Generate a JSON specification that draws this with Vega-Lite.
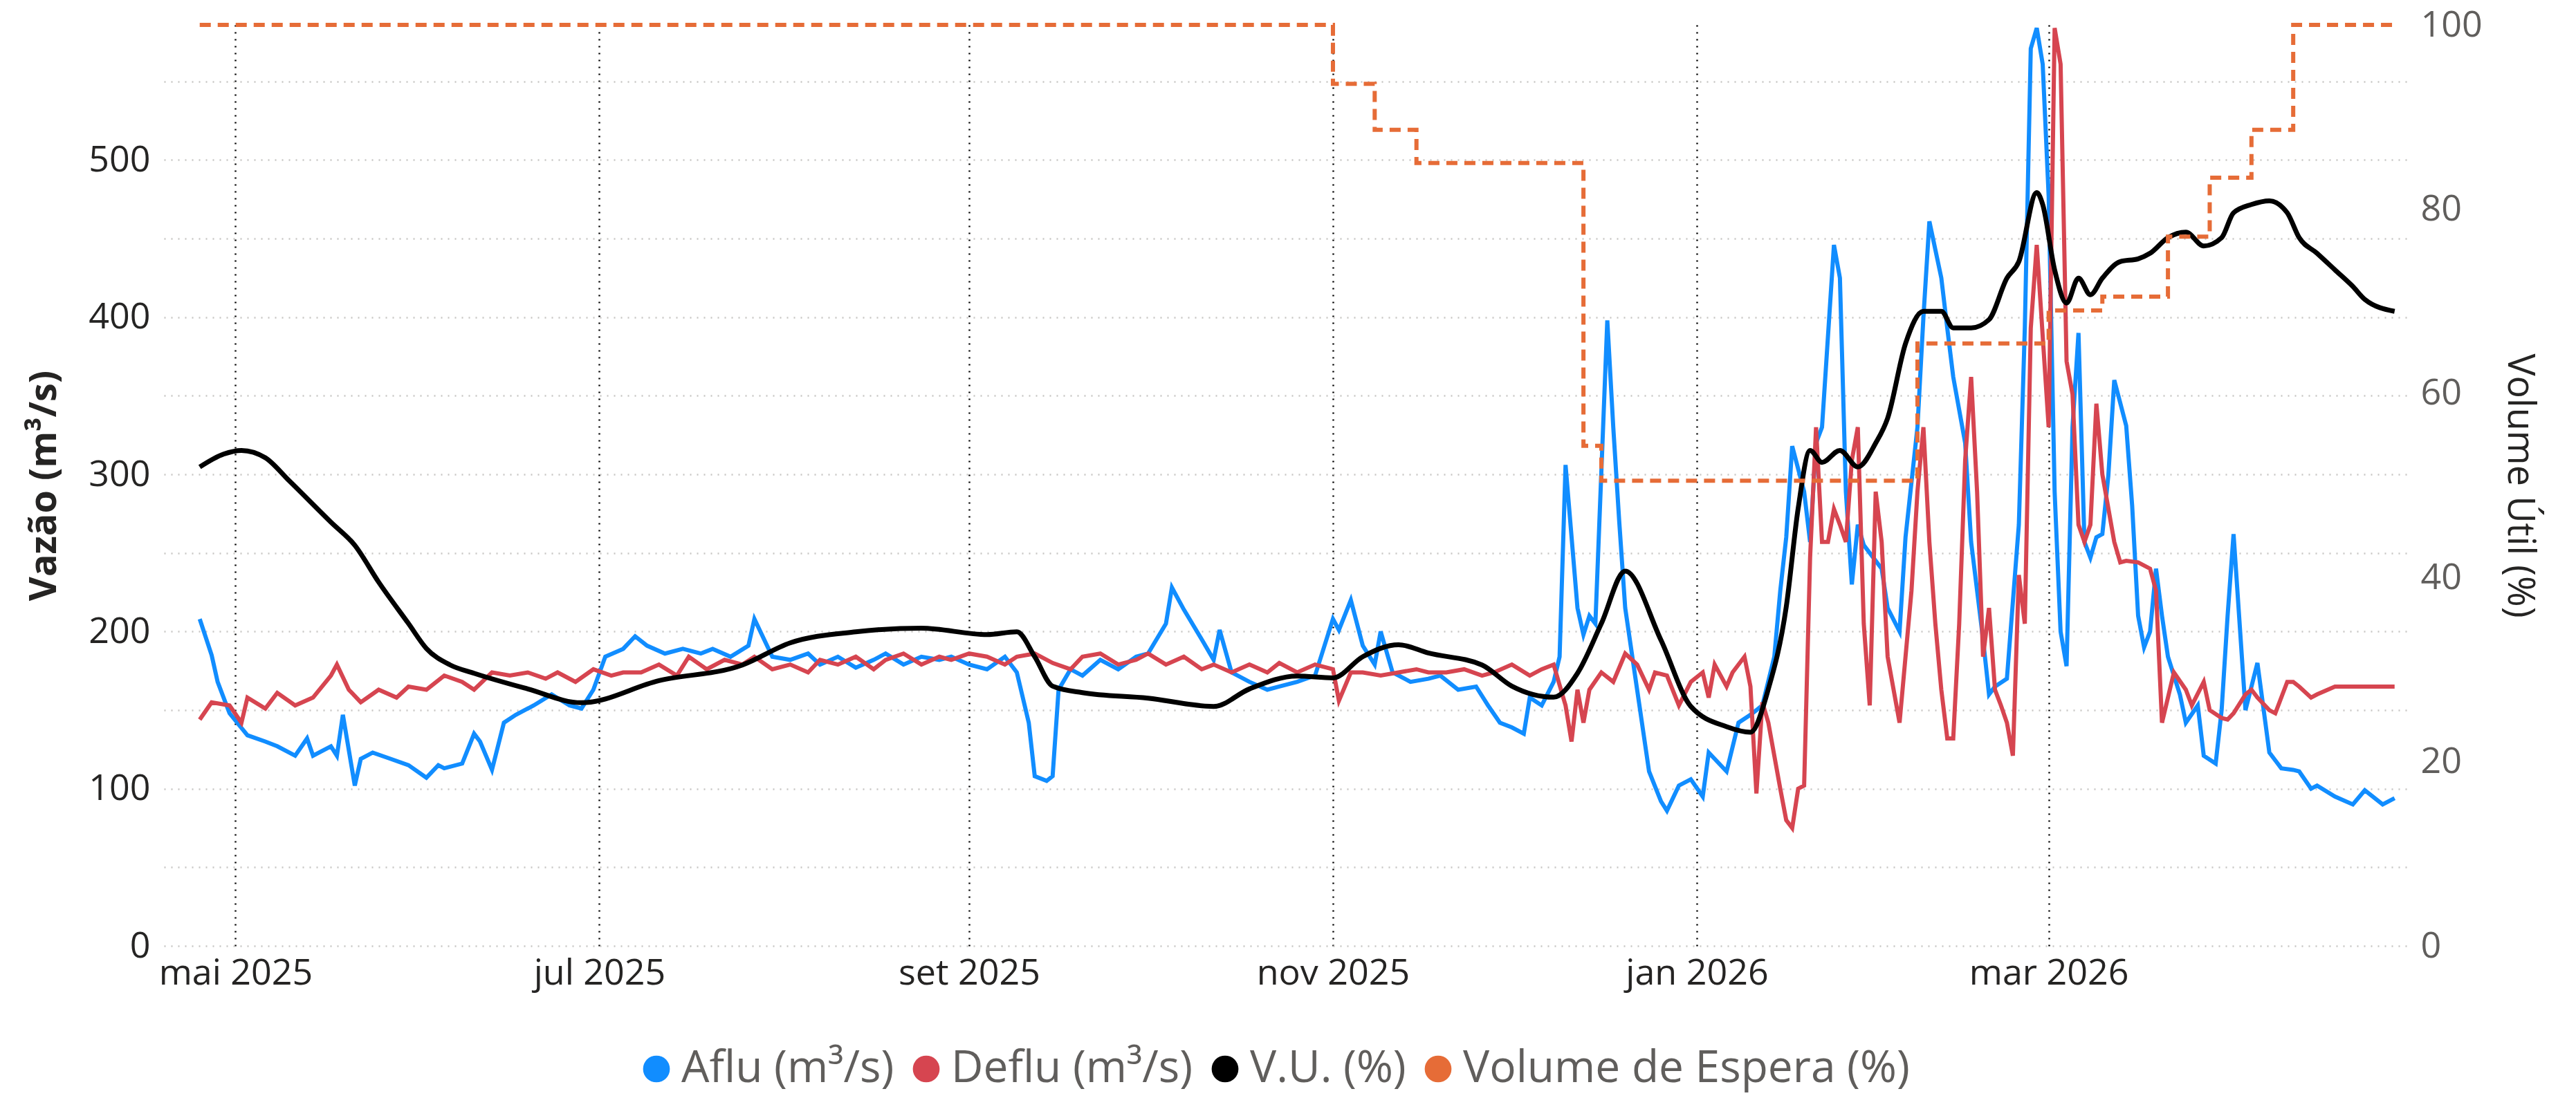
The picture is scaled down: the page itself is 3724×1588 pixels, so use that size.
{
 "$schema": "https://vega.github.io/schema/vega-lite/v6.json",
 "autosize": "none",
 "width": 3242,
 "height": 1332,
 "padding": {"left": 237, "top": 36, "right": 245, "bottom": 220},
 "config": {
  "font": "Open Sans",
  "view": {"stroke": null},
  "axis": {"domain": false, "ticks": false, "labelFontSize": 52, "titleFontSize": 54, "labelColor": "#252423", "labelLimit": 600},
  "legend": {"labelFontSize": 64, "labelColor": "#605E5C", "symbolSize": 1500, "symbolType": "circle", "symbolStrokeWidth": 0, "labelLimit": 900}
 },
 "datasets": {
  "flow": [
   {"d": -6, "s": "Aflu (m³/s)", "v": 208}, {"d": -4, "s": "Aflu (m³/s)", "v": 185}, {"d": -3, "s": "Aflu (m³/s)", "v": 168}, {"d": -1, "s": "Aflu (m³/s)", "v": 148},
   {"d": 2, "s": "Aflu (m³/s)", "v": 134}, {"d": 5, "s": "Aflu (m³/s)", "v": 130}, {"d": 7, "s": "Aflu (m³/s)", "v": 127}, {"d": 10, "s": "Aflu (m³/s)", "v": 121},
   {"d": 12, "s": "Aflu (m³/s)", "v": 132}, {"d": 13, "s": "Aflu (m³/s)", "v": 121}, {"d": 16, "s": "Aflu (m³/s)", "v": 127}, {"d": 17, "s": "Aflu (m³/s)", "v": 121},
   {"d": 18, "s": "Aflu (m³/s)", "v": 147}, {"d": 20, "s": "Aflu (m³/s)", "v": 102}, {"d": 21, "s": "Aflu (m³/s)", "v": 119}, {"d": 23, "s": "Aflu (m³/s)", "v": 123},
   {"d": 26, "s": "Aflu (m³/s)", "v": 119}, {"d": 29, "s": "Aflu (m³/s)", "v": 115}, {"d": 32, "s": "Aflu (m³/s)", "v": 107}, {"d": 34, "s": "Aflu (m³/s)", "v": 115},
   {"d": 35, "s": "Aflu (m³/s)", "v": 113}, {"d": 38, "s": "Aflu (m³/s)", "v": 116}, {"d": 40, "s": "Aflu (m³/s)", "v": 135}, {"d": 41, "s": "Aflu (m³/s)", "v": 130},
   {"d": 43, "s": "Aflu (m³/s)", "v": 112}, {"d": 45, "s": "Aflu (m³/s)", "v": 142}, {"d": 47, "s": "Aflu (m³/s)", "v": 147}, {"d": 50, "s": "Aflu (m³/s)", "v": 153},
   {"d": 53, "s": "Aflu (m³/s)", "v": 160}, {"d": 56, "s": "Aflu (m³/s)", "v": 153}, {"d": 58, "s": "Aflu (m³/s)", "v": 151}, {"d": 60, "s": "Aflu (m³/s)", "v": 163},
   {"d": 62, "s": "Aflu (m³/s)", "v": 184}, {"d": 65, "s": "Aflu (m³/s)", "v": 189}, {"d": 67, "s": "Aflu (m³/s)", "v": 197}, {"d": 69, "s": "Aflu (m³/s)", "v": 191},
   {"d": 72, "s": "Aflu (m³/s)", "v": 186}, {"d": 75, "s": "Aflu (m³/s)", "v": 189}, {"d": 78, "s": "Aflu (m³/s)", "v": 186}, {"d": 80, "s": "Aflu (m³/s)", "v": 189},
   {"d": 83, "s": "Aflu (m³/s)", "v": 184}, {"d": 86, "s": "Aflu (m³/s)", "v": 191}, {"d": 87, "s": "Aflu (m³/s)", "v": 208}, {"d": 90, "s": "Aflu (m³/s)", "v": 184},
   {"d": 93, "s": "Aflu (m³/s)", "v": 182}, {"d": 96, "s": "Aflu (m³/s)", "v": 186}, {"d": 98, "s": "Aflu (m³/s)", "v": 179}, {"d": 101, "s": "Aflu (m³/s)", "v": 184},
   {"d": 104, "s": "Aflu (m³/s)", "v": 177}, {"d": 107, "s": "Aflu (m³/s)", "v": 182}, {"d": 109, "s": "Aflu (m³/s)", "v": 186}, {"d": 112, "s": "Aflu (m³/s)", "v": 179},
   {"d": 115, "s": "Aflu (m³/s)", "v": 184}, {"d": 118, "s": "Aflu (m³/s)", "v": 182}, {"d": 120, "s": "Aflu (m³/s)", "v": 184}, {"d": 123, "s": "Aflu (m³/s)", "v": 179},
   {"d": 126, "s": "Aflu (m³/s)", "v": 176}, {"d": 129, "s": "Aflu (m³/s)", "v": 184}, {"d": 131, "s": "Aflu (m³/s)", "v": 174}, {"d": 133, "s": "Aflu (m³/s)", "v": 142},
   {"d": 134, "s": "Aflu (m³/s)", "v": 108}, {"d": 136, "s": "Aflu (m³/s)", "v": 105}, {"d": 137, "s": "Aflu (m³/s)", "v": 108}, {"d": 138, "s": "Aflu (m³/s)", "v": 163},
   {"d": 140, "s": "Aflu (m³/s)", "v": 176}, {"d": 142, "s": "Aflu (m³/s)", "v": 172}, {"d": 145, "s": "Aflu (m³/s)", "v": 182}, {"d": 148, "s": "Aflu (m³/s)", "v": 176},
   {"d": 151, "s": "Aflu (m³/s)", "v": 184}, {"d": 153, "s": "Aflu (m³/s)", "v": 186}, {"d": 156, "s": "Aflu (m³/s)", "v": 205}, {"d": 157, "s": "Aflu (m³/s)", "v": 228},
   {"d": 159, "s": "Aflu (m³/s)", "v": 214}, {"d": 162, "s": "Aflu (m³/s)", "v": 195}, {"d": 164, "s": "Aflu (m³/s)", "v": 182}, {"d": 165, "s": "Aflu (m³/s)", "v": 201},
   {"d": 167, "s": "Aflu (m³/s)", "v": 174}, {"d": 170, "s": "Aflu (m³/s)", "v": 168}, {"d": 173, "s": "Aflu (m³/s)", "v": 163}, {"d": 175, "s": "Aflu (m³/s)", "v": 165},
   {"d": 178, "s": "Aflu (m³/s)", "v": 168}, {"d": 181, "s": "Aflu (m³/s)", "v": 172}, {"d": 184, "s": "Aflu (m³/s)", "v": 208}, {"d": 185, "s": "Aflu (m³/s)", "v": 201},
   {"d": 187, "s": "Aflu (m³/s)", "v": 220}, {"d": 189, "s": "Aflu (m³/s)", "v": 191}, {"d": 191, "s": "Aflu (m³/s)", "v": 179}, {"d": 192, "s": "Aflu (m³/s)", "v": 200},
   {"d": 194, "s": "Aflu (m³/s)", "v": 174}, {"d": 197, "s": "Aflu (m³/s)", "v": 168}, {"d": 200, "s": "Aflu (m³/s)", "v": 170}, {"d": 202, "s": "Aflu (m³/s)", "v": 172},
   {"d": 205, "s": "Aflu (m³/s)", "v": 163}, {"d": 208, "s": "Aflu (m³/s)", "v": 165}, {"d": 210, "s": "Aflu (m³/s)", "v": 153}, {"d": 212, "s": "Aflu (m³/s)", "v": 142},
   {"d": 214, "s": "Aflu (m³/s)", "v": 139}, {"d": 216, "s": "Aflu (m³/s)", "v": 135}, {"d": 217, "s": "Aflu (m³/s)", "v": 158}, {"d": 219, "s": "Aflu (m³/s)", "v": 153},
   {"d": 221, "s": "Aflu (m³/s)", "v": 168}, {"d": 222, "s": "Aflu (m³/s)", "v": 184}, {"d": 223, "s": "Aflu (m³/s)", "v": 306}, {"d": 225, "s": "Aflu (m³/s)", "v": 215},
   {"d": 226, "s": "Aflu (m³/s)", "v": 198}, {"d": 227, "s": "Aflu (m³/s)", "v": 210}, {"d": 228, "s": "Aflu (m³/s)", "v": 205}, {"d": 230, "s": "Aflu (m³/s)", "v": 398},
   {"d": 231, "s": "Aflu (m³/s)", "v": 330}, {"d": 232, "s": "Aflu (m³/s)", "v": 270}, {"d": 233, "s": "Aflu (m³/s)", "v": 215}, {"d": 235, "s": "Aflu (m³/s)", "v": 163},
   {"d": 236, "s": "Aflu (m³/s)", "v": 137}, {"d": 237, "s": "Aflu (m³/s)", "v": 111}, {"d": 239, "s": "Aflu (m³/s)", "v": 92}, {"d": 240, "s": "Aflu (m³/s)", "v": 86},
   {"d": 242, "s": "Aflu (m³/s)", "v": 102}, {"d": 244, "s": "Aflu (m³/s)", "v": 106}, {"d": 246, "s": "Aflu (m³/s)", "v": 95}, {"d": 247, "s": "Aflu (m³/s)", "v": 123},
   {"d": 248, "s": "Aflu (m³/s)", "v": 119}, {"d": 250, "s": "Aflu (m³/s)", "v": 111}, {"d": 252, "s": "Aflu (m³/s)", "v": 142}, {"d": 254, "s": "Aflu (m³/s)", "v": 147},
   {"d": 256, "s": "Aflu (m³/s)", "v": 153}, {"d": 258, "s": "Aflu (m³/s)", "v": 184}, {"d": 259, "s": "Aflu (m³/s)", "v": 226}, {"d": 260, "s": "Aflu (m³/s)", "v": 260},
   {"d": 261, "s": "Aflu (m³/s)", "v": 318}, {"d": 263, "s": "Aflu (m³/s)", "v": 289}, {"d": 264, "s": "Aflu (m³/s)", "v": 257}, {"d": 265, "s": "Aflu (m³/s)", "v": 320},
   {"d": 266, "s": "Aflu (m³/s)", "v": 330}, {"d": 268, "s": "Aflu (m³/s)", "v": 446}, {"d": 269, "s": "Aflu (m³/s)", "v": 425}, {"d": 270, "s": "Aflu (m³/s)", "v": 289},
   {"d": 271, "s": "Aflu (m³/s)", "v": 230}, {"d": 272, "s": "Aflu (m³/s)", "v": 268}, {"d": 273, "s": "Aflu (m³/s)", "v": 255}, {"d": 275, "s": "Aflu (m³/s)", "v": 245},
   {"d": 276, "s": "Aflu (m³/s)", "v": 240}, {"d": 277, "s": "Aflu (m³/s)", "v": 215}, {"d": 279, "s": "Aflu (m³/s)", "v": 200}, {"d": 280, "s": "Aflu (m³/s)", "v": 260},
   {"d": 282, "s": "Aflu (m³/s)", "v": 330}, {"d": 283, "s": "Aflu (m³/s)", "v": 400}, {"d": 284, "s": "Aflu (m³/s)", "v": 461}, {"d": 286, "s": "Aflu (m³/s)", "v": 425},
   {"d": 287, "s": "Aflu (m³/s)", "v": 393}, {"d": 288, "s": "Aflu (m³/s)", "v": 362}, {"d": 290, "s": "Aflu (m³/s)", "v": 320}, {"d": 291, "s": "Aflu (m³/s)", "v": 257},
   {"d": 293, "s": "Aflu (m³/s)", "v": 195}, {"d": 294, "s": "Aflu (m³/s)", "v": 160}, {"d": 295, "s": "Aflu (m³/s)", "v": 165}, {"d": 297, "s": "Aflu (m³/s)", "v": 170},
   {"d": 299, "s": "Aflu (m³/s)", "v": 268}, {"d": 300, "s": "Aflu (m³/s)", "v": 393}, {"d": 301, "s": "Aflu (m³/s)", "v": 571}, {"d": 302, "s": "Aflu (m³/s)", "v": 584},
   {"d": 303, "s": "Aflu (m³/s)", "v": 561}, {"d": 304, "s": "Aflu (m³/s)", "v": 477}, {"d": 305, "s": "Aflu (m³/s)", "v": 289}, {"d": 306, "s": "Aflu (m³/s)", "v": 200},
   {"d": 307, "s": "Aflu (m³/s)", "v": 178}, {"d": 308, "s": "Aflu (m³/s)", "v": 330}, {"d": 309, "s": "Aflu (m³/s)", "v": 390}, {"d": 310, "s": "Aflu (m³/s)", "v": 257},
   {"d": 311, "s": "Aflu (m³/s)", "v": 247}, {"d": 312, "s": "Aflu (m³/s)", "v": 260}, {"d": 313, "s": "Aflu (m³/s)", "v": 262}, {"d": 314, "s": "Aflu (m³/s)", "v": 299},
   {"d": 315, "s": "Aflu (m³/s)", "v": 360}, {"d": 317, "s": "Aflu (m³/s)", "v": 331}, {"d": 318, "s": "Aflu (m³/s)", "v": 280}, {"d": 319, "s": "Aflu (m³/s)", "v": 210},
   {"d": 320, "s": "Aflu (m³/s)", "v": 190}, {"d": 321, "s": "Aflu (m³/s)", "v": 200}, {"d": 322, "s": "Aflu (m³/s)", "v": 240}, {"d": 323, "s": "Aflu (m³/s)", "v": 210},
   {"d": 324, "s": "Aflu (m³/s)", "v": 184}, {"d": 326, "s": "Aflu (m³/s)", "v": 160}, {"d": 327, "s": "Aflu (m³/s)", "v": 142}, {"d": 329, "s": "Aflu (m³/s)", "v": 153},
   {"d": 330, "s": "Aflu (m³/s)", "v": 121}, {"d": 332, "s": "Aflu (m³/s)", "v": 116}, {"d": 333, "s": "Aflu (m³/s)", "v": 150}, {"d": 334, "s": "Aflu (m³/s)", "v": 210},
   {"d": 335, "s": "Aflu (m³/s)", "v": 262}, {"d": 337, "s": "Aflu (m³/s)", "v": 150}, {"d": 338, "s": "Aflu (m³/s)", "v": 165}, {"d": 339, "s": "Aflu (m³/s)", "v": 180},
   {"d": 341, "s": "Aflu (m³/s)", "v": 123}, {"d": 342, "s": "Aflu (m³/s)", "v": 118}, {"d": 343, "s": "Aflu (m³/s)", "v": 113}, {"d": 345, "s": "Aflu (m³/s)", "v": 112},
   {"d": 346, "s": "Aflu (m³/s)", "v": 111}, {"d": 348, "s": "Aflu (m³/s)", "v": 100}, {"d": 349, "s": "Aflu (m³/s)", "v": 102}, {"d": 352, "s": "Aflu (m³/s)", "v": 95},
   {"d": 355, "s": "Aflu (m³/s)", "v": 90}, {"d": 357, "s": "Aflu (m³/s)", "v": 99}, {"d": 360, "s": "Aflu (m³/s)", "v": 90}, {"d": 362, "s": "Aflu (m³/s)", "v": 94},

   {"d": -6, "s": "Deflu (m³/s)", "v": 144}, {"d": -4, "s": "Deflu (m³/s)", "v": 155}, {"d": -1, "s": "Deflu (m³/s)", "v": 153}, {"d": 1, "s": "Deflu (m³/s)", "v": 142},
   {"d": 2, "s": "Deflu (m³/s)", "v": 158}, {"d": 5, "s": "Deflu (m³/s)", "v": 151}, {"d": 7, "s": "Deflu (m³/s)", "v": 161}, {"d": 10, "s": "Deflu (m³/s)", "v": 153},
   {"d": 13, "s": "Deflu (m³/s)", "v": 158}, {"d": 16, "s": "Deflu (m³/s)", "v": 172}, {"d": 17, "s": "Deflu (m³/s)", "v": 179}, {"d": 19, "s": "Deflu (m³/s)", "v": 163},
   {"d": 21, "s": "Deflu (m³/s)", "v": 155}, {"d": 24, "s": "Deflu (m³/s)", "v": 163}, {"d": 27, "s": "Deflu (m³/s)", "v": 158}, {"d": 29, "s": "Deflu (m³/s)", "v": 165},
   {"d": 32, "s": "Deflu (m³/s)", "v": 163}, {"d": 35, "s": "Deflu (m³/s)", "v": 172}, {"d": 38, "s": "Deflu (m³/s)", "v": 168}, {"d": 40, "s": "Deflu (m³/s)", "v": 163},
   {"d": 43, "s": "Deflu (m³/s)", "v": 174}, {"d": 46, "s": "Deflu (m³/s)", "v": 172}, {"d": 49, "s": "Deflu (m³/s)", "v": 174}, {"d": 52, "s": "Deflu (m³/s)", "v": 170},
   {"d": 54, "s": "Deflu (m³/s)", "v": 174}, {"d": 57, "s": "Deflu (m³/s)", "v": 168}, {"d": 60, "s": "Deflu (m³/s)", "v": 176}, {"d": 63, "s": "Deflu (m³/s)", "v": 172},
   {"d": 65, "s": "Deflu (m³/s)", "v": 174}, {"d": 68, "s": "Deflu (m³/s)", "v": 174}, {"d": 71, "s": "Deflu (m³/s)", "v": 179}, {"d": 74, "s": "Deflu (m³/s)", "v": 172},
   {"d": 76, "s": "Deflu (m³/s)", "v": 184}, {"d": 79, "s": "Deflu (m³/s)", "v": 176}, {"d": 82, "s": "Deflu (m³/s)", "v": 182}, {"d": 85, "s": "Deflu (m³/s)", "v": 179},
   {"d": 87, "s": "Deflu (m³/s)", "v": 184}, {"d": 90, "s": "Deflu (m³/s)", "v": 176}, {"d": 93, "s": "Deflu (m³/s)", "v": 179}, {"d": 96, "s": "Deflu (m³/s)", "v": 174},
   {"d": 98, "s": "Deflu (m³/s)", "v": 182}, {"d": 101, "s": "Deflu (m³/s)", "v": 179}, {"d": 104, "s": "Deflu (m³/s)", "v": 184}, {"d": 107, "s": "Deflu (m³/s)", "v": 176},
   {"d": 109, "s": "Deflu (m³/s)", "v": 182}, {"d": 112, "s": "Deflu (m³/s)", "v": 186}, {"d": 115, "s": "Deflu (m³/s)", "v": 179}, {"d": 118, "s": "Deflu (m³/s)", "v": 184},
   {"d": 120, "s": "Deflu (m³/s)", "v": 182}, {"d": 123, "s": "Deflu (m³/s)", "v": 186}, {"d": 126, "s": "Deflu (m³/s)", "v": 184}, {"d": 129, "s": "Deflu (m³/s)", "v": 179},
   {"d": 131, "s": "Deflu (m³/s)", "v": 184}, {"d": 134, "s": "Deflu (m³/s)", "v": 186}, {"d": 137, "s": "Deflu (m³/s)", "v": 180}, {"d": 140, "s": "Deflu (m³/s)", "v": 176},
   {"d": 142, "s": "Deflu (m³/s)", "v": 184}, {"d": 145, "s": "Deflu (m³/s)", "v": 186}, {"d": 148, "s": "Deflu (m³/s)", "v": 179}, {"d": 151, "s": "Deflu (m³/s)", "v": 182},
   {"d": 153, "s": "Deflu (m³/s)", "v": 186}, {"d": 156, "s": "Deflu (m³/s)", "v": 179}, {"d": 159, "s": "Deflu (m³/s)", "v": 184}, {"d": 162, "s": "Deflu (m³/s)", "v": 176},
   {"d": 164, "s": "Deflu (m³/s)", "v": 179}, {"d": 167, "s": "Deflu (m³/s)", "v": 174}, {"d": 170, "s": "Deflu (m³/s)", "v": 179}, {"d": 173, "s": "Deflu (m³/s)", "v": 174},
   {"d": 175, "s": "Deflu (m³/s)", "v": 180}, {"d": 178, "s": "Deflu (m³/s)", "v": 174}, {"d": 181, "s": "Deflu (m³/s)", "v": 179}, {"d": 184, "s": "Deflu (m³/s)", "v": 176},
   {"d": 185, "s": "Deflu (m³/s)", "v": 156}, {"d": 187, "s": "Deflu (m³/s)", "v": 174}, {"d": 189, "s": "Deflu (m³/s)", "v": 174}, {"d": 192, "s": "Deflu (m³/s)", "v": 172},
   {"d": 195, "s": "Deflu (m³/s)", "v": 174}, {"d": 198, "s": "Deflu (m³/s)", "v": 176}, {"d": 200, "s": "Deflu (m³/s)", "v": 174}, {"d": 203, "s": "Deflu (m³/s)", "v": 174},
   {"d": 206, "s": "Deflu (m³/s)", "v": 176}, {"d": 209, "s": "Deflu (m³/s)", "v": 172}, {"d": 211, "s": "Deflu (m³/s)", "v": 174}, {"d": 214, "s": "Deflu (m³/s)", "v": 179},
   {"d": 217, "s": "Deflu (m³/s)", "v": 172}, {"d": 219, "s": "Deflu (m³/s)", "v": 176}, {"d": 221, "s": "Deflu (m³/s)", "v": 179}, {"d": 223, "s": "Deflu (m³/s)", "v": 153},
   {"d": 224, "s": "Deflu (m³/s)", "v": 130}, {"d": 225, "s": "Deflu (m³/s)", "v": 163}, {"d": 226, "s": "Deflu (m³/s)", "v": 142}, {"d": 227, "s": "Deflu (m³/s)", "v": 163},
   {"d": 229, "s": "Deflu (m³/s)", "v": 174}, {"d": 231, "s": "Deflu (m³/s)", "v": 168}, {"d": 233, "s": "Deflu (m³/s)", "v": 186}, {"d": 235, "s": "Deflu (m³/s)", "v": 179},
   {"d": 237, "s": "Deflu (m³/s)", "v": 163}, {"d": 238, "s": "Deflu (m³/s)", "v": 174}, {"d": 240, "s": "Deflu (m³/s)", "v": 172}, {"d": 242, "s": "Deflu (m³/s)", "v": 153},
   {"d": 244, "s": "Deflu (m³/s)", "v": 168}, {"d": 246, "s": "Deflu (m³/s)", "v": 174}, {"d": 247, "s": "Deflu (m³/s)", "v": 158}, {"d": 248, "s": "Deflu (m³/s)", "v": 179},
   {"d": 250, "s": "Deflu (m³/s)", "v": 165}, {"d": 251, "s": "Deflu (m³/s)", "v": 174}, {"d": 253, "s": "Deflu (m³/s)", "v": 184}, {"d": 254, "s": "Deflu (m³/s)", "v": 165},
   {"d": 255, "s": "Deflu (m³/s)", "v": 97}, {"d": 256, "s": "Deflu (m³/s)", "v": 155}, {"d": 257, "s": "Deflu (m³/s)", "v": 142}, {"d": 259, "s": "Deflu (m³/s)", "v": 100},
   {"d": 260, "s": "Deflu (m³/s)", "v": 80}, {"d": 261, "s": "Deflu (m³/s)", "v": 75}, {"d": 262, "s": "Deflu (m³/s)", "v": 100}, {"d": 263, "s": "Deflu (m³/s)", "v": 102},
   {"d": 264, "s": "Deflu (m³/s)", "v": 247}, {"d": 265, "s": "Deflu (m³/s)", "v": 330}, {"d": 266, "s": "Deflu (m³/s)", "v": 257}, {"d": 267, "s": "Deflu (m³/s)", "v": 257},
   {"d": 268, "s": "Deflu (m³/s)", "v": 278}, {"d": 269, "s": "Deflu (m³/s)", "v": 268}, {"d": 270, "s": "Deflu (m³/s)", "v": 257}, {"d": 271, "s": "Deflu (m³/s)", "v": 309},
   {"d": 272, "s": "Deflu (m³/s)", "v": 330}, {"d": 273, "s": "Deflu (m³/s)", "v": 205}, {"d": 274, "s": "Deflu (m³/s)", "v": 153}, {"d": 275, "s": "Deflu (m³/s)", "v": 289},
   {"d": 276, "s": "Deflu (m³/s)", "v": 257}, {"d": 277, "s": "Deflu (m³/s)", "v": 184}, {"d": 278, "s": "Deflu (m³/s)", "v": 163}, {"d": 279, "s": "Deflu (m³/s)", "v": 142},
   {"d": 281, "s": "Deflu (m³/s)", "v": 226}, {"d": 282, "s": "Deflu (m³/s)", "v": 289}, {"d": 283, "s": "Deflu (m³/s)", "v": 330}, {"d": 284, "s": "Deflu (m³/s)", "v": 257},
   {"d": 285, "s": "Deflu (m³/s)", "v": 205}, {"d": 286, "s": "Deflu (m³/s)", "v": 163}, {"d": 287, "s": "Deflu (m³/s)", "v": 132}, {"d": 288, "s": "Deflu (m³/s)", "v": 132},
   {"d": 289, "s": "Deflu (m³/s)", "v": 205}, {"d": 290, "s": "Deflu (m³/s)", "v": 309}, {"d": 291, "s": "Deflu (m³/s)", "v": 362}, {"d": 292, "s": "Deflu (m³/s)", "v": 289},
   {"d": 293, "s": "Deflu (m³/s)", "v": 184}, {"d": 294, "s": "Deflu (m³/s)", "v": 215}, {"d": 295, "s": "Deflu (m³/s)", "v": 163}, {"d": 296, "s": "Deflu (m³/s)", "v": 153},
   {"d": 297, "s": "Deflu (m³/s)", "v": 142}, {"d": 298, "s": "Deflu (m³/s)", "v": 121}, {"d": 299, "s": "Deflu (m³/s)", "v": 236}, {"d": 300, "s": "Deflu (m³/s)", "v": 205},
   {"d": 301, "s": "Deflu (m³/s)", "v": 393}, {"d": 302, "s": "Deflu (m³/s)", "v": 446}, {"d": 304, "s": "Deflu (m³/s)", "v": 330}, {"d": 305, "s": "Deflu (m³/s)", "v": 584},
   {"d": 306, "s": "Deflu (m³/s)", "v": 561}, {"d": 307, "s": "Deflu (m³/s)", "v": 372}, {"d": 308, "s": "Deflu (m³/s)", "v": 351}, {"d": 309, "s": "Deflu (m³/s)", "v": 268},
   {"d": 310, "s": "Deflu (m³/s)", "v": 257}, {"d": 311, "s": "Deflu (m³/s)", "v": 268}, {"d": 312, "s": "Deflu (m³/s)", "v": 345}, {"d": 313, "s": "Deflu (m³/s)", "v": 300},
   {"d": 315, "s": "Deflu (m³/s)", "v": 257}, {"d": 316, "s": "Deflu (m³/s)", "v": 244}, {"d": 317, "s": "Deflu (m³/s)", "v": 245}, {"d": 319, "s": "Deflu (m³/s)", "v": 244},
   {"d": 321, "s": "Deflu (m³/s)", "v": 240}, {"d": 322, "s": "Deflu (m³/s)", "v": 226}, {"d": 323, "s": "Deflu (m³/s)", "v": 142}, {"d": 325, "s": "Deflu (m³/s)", "v": 174},
   {"d": 327, "s": "Deflu (m³/s)", "v": 163}, {"d": 328, "s": "Deflu (m³/s)", "v": 153}, {"d": 330, "s": "Deflu (m³/s)", "v": 168}, {"d": 331, "s": "Deflu (m³/s)", "v": 150},
   {"d": 333, "s": "Deflu (m³/s)", "v": 145}, {"d": 334, "s": "Deflu (m³/s)", "v": 144}, {"d": 335, "s": "Deflu (m³/s)", "v": 148}, {"d": 337, "s": "Deflu (m³/s)", "v": 160},
   {"d": 338, "s": "Deflu (m³/s)", "v": 163}, {"d": 339, "s": "Deflu (m³/s)", "v": 158}, {"d": 341, "s": "Deflu (m³/s)", "v": 150}, {"d": 342, "s": "Deflu (m³/s)", "v": 148},
   {"d": 344, "s": "Deflu (m³/s)", "v": 168}, {"d": 345, "s": "Deflu (m³/s)", "v": 168}, {"d": 346, "s": "Deflu (m³/s)", "v": 165}, {"d": 348, "s": "Deflu (m³/s)", "v": 158},
   {"d": 349, "s": "Deflu (m³/s)", "v": 160}, {"d": 352, "s": "Deflu (m³/s)", "v": 165}, {"d": 355, "s": "Deflu (m³/s)", "v": 165}, {"d": 362, "s": "Deflu (m³/s)", "v": 165}
  ],
  "vol": [
   {"d": -6, "s": "V.U. (%)", "v": 52}, {"d": -2, "s": "V.U. (%)", "v": 53.4}, {"d": 1, "s": "V.U. (%)", "v": 53.8}, {"d": 5, "s": "V.U. (%)", "v": 53},
   {"d": 9, "s": "V.U. (%)", "v": 50.5}, {"d": 16, "s": "V.U. (%)", "v": 46}, {"d": 20, "s": "V.U. (%)", "v": 43.5}, {"d": 24, "s": "V.U. (%)", "v": 39.5},
   {"d": 29, "s": "V.U. (%)", "v": 35}, {"d": 32, "s": "V.U. (%)", "v": 32.3}, {"d": 36, "s": "V.U. (%)", "v": 30.5}, {"d": 40, "s": "V.U. (%)", "v": 29.6},
   {"d": 49, "s": "V.U. (%)", "v": 27.9}, {"d": 58, "s": "V.U. (%)", "v": 26.4}, {"d": 71, "s": "V.U. (%)", "v": 28.8}, {"d": 85, "s": "V.U. (%)", "v": 30.5},
   {"d": 93, "s": "V.U. (%)", "v": 32.9}, {"d": 104, "s": "V.U. (%)", "v": 34.1}, {"d": 115, "s": "V.U. (%)", "v": 34.5}, {"d": 126, "s": "V.U. (%)", "v": 33.8},
   {"d": 131, "s": "V.U. (%)", "v": 34.1}, {"d": 134, "s": "V.U. (%)", "v": 31.4}, {"d": 137, "s": "V.U. (%)", "v": 28.2}, {"d": 142, "s": "V.U. (%)", "v": 27.5},
   {"d": 153, "s": "V.U. (%)", "v": 26.9}, {"d": 164, "s": "V.U. (%)", "v": 26}, {"d": 170, "s": "V.U. (%)", "v": 27.9}, {"d": 178, "s": "V.U. (%)", "v": 29.3},
   {"d": 184, "s": "V.U. (%)", "v": 29.1}, {"d": 189, "s": "V.U. (%)", "v": 31.4}, {"d": 195, "s": "V.U. (%)", "v": 32.7}, {"d": 200, "s": "V.U. (%)", "v": 31.8},
   {"d": 209, "s": "V.U. (%)", "v": 30.5}, {"d": 214, "s": "V.U. (%)", "v": 28.2}, {"d": 221, "s": "V.U. (%)", "v": 27}, {"d": 225, "s": "V.U. (%)", "v": 29.6},
   {"d": 229, "s": "V.U. (%)", "v": 35}, {"d": 233, "s": "V.U. (%)", "v": 40.7}, {"d": 239, "s": "V.U. (%)", "v": 33.2}, {"d": 244, "s": "V.U. (%)", "v": 26},
   {"d": 250, "s": "V.U. (%)", "v": 23.8}, {"d": 254, "s": "V.U. (%)", "v": 23.2}, {"d": 257, "s": "V.U. (%)", "v": 27.9}, {"d": 260, "s": "V.U. (%)", "v": 36.8},
   {"d": 262, "s": "V.U. (%)", "v": 47.5}, {"d": 264, "s": "V.U. (%)", "v": 53.8}, {"d": 266, "s": "V.U. (%)", "v": 52.5}, {"d": 269, "s": "V.U. (%)", "v": 53.8},
   {"d": 272, "s": "V.U. (%)", "v": 52}, {"d": 275, "s": "V.U. (%)", "v": 54.6}, {"d": 277, "s": "V.U. (%)", "v": 57.3}, {"d": 280, "s": "V.U. (%)", "v": 65.4},
   {"d": 283, "s": "V.U. (%)", "v": 68.9}, {"d": 286, "s": "V.U. (%)", "v": 68.9}, {"d": 288, "s": "V.U. (%)", "v": 67.1}, {"d": 291, "s": "V.U. (%)", "v": 67.1},
   {"d": 294, "s": "V.U. (%)", "v": 68}, {"d": 297, "s": "V.U. (%)", "v": 72.5}, {"d": 299, "s": "V.U. (%)", "v": 74.3}, {"d": 302, "s": "V.U. (%)", "v": 81.8},
   {"d": 303, "s": "V.U. (%)", "v": 80.5}, {"d": 305, "s": "V.U. (%)", "v": 73.4}, {"d": 307, "s": "V.U. (%)", "v": 69.8}, {"d": 309, "s": "V.U. (%)", "v": 72.5},
   {"d": 311, "s": "V.U. (%)", "v": 70.7}, {"d": 313, "s": "V.U. (%)", "v": 72.5}, {"d": 316, "s": "V.U. (%)", "v": 74.3}, {"d": 319, "s": "V.U. (%)", "v": 74.6},
   {"d": 321, "s": "V.U. (%)", "v": 75.2}, {"d": 324, "s": "V.U. (%)", "v": 76.9}, {"d": 327, "s": "V.U. (%)", "v": 77.5}, {"d": 330, "s": "V.U. (%)", "v": 76},
   {"d": 333, "s": "V.U. (%)", "v": 76.9}, {"d": 335, "s": "V.U. (%)", "v": 79.6}, {"d": 338, "s": "V.U. (%)", "v": 80.5}, {"d": 341, "s": "V.U. (%)", "v": 80.9},
   {"d": 344, "s": "V.U. (%)", "v": 79.6}, {"d": 346, "s": "V.U. (%)", "v": 76.9}, {"d": 349, "s": "V.U. (%)", "v": 75.2}, {"d": 352, "s": "V.U. (%)", "v": 73.4},
   {"d": 355, "s": "V.U. (%)", "v": 71.6}, {"d": 357, "s": "V.U. (%)", "v": 70.2}, {"d": 362, "s": "V.U. (%)", "v": 68.9},

   {"d": -6, "s": "Volume de Espera (%)", "v": 100}, {"d": 184, "s": "Volume de Espera (%)", "v": 93.6}, {"d": 191, "s": "Volume de Espera (%)", "v": 88.6},
   {"d": 198, "s": "Volume de Espera (%)", "v": 85}, {"d": 226, "s": "Volume de Espera (%)", "v": 54.3}, {"d": 229, "s": "Volume de Espera (%)", "v": 50.5},
   {"d": 282, "s": "Volume de Espera (%)", "v": 65.4}, {"d": 304, "s": "Volume de Espera (%)", "v": 69}, {"d": 313, "s": "Volume de Espera (%)", "v": 70.5},
   {"d": 324, "s": "Volume de Espera (%)", "v": 77}, {"d": 331, "s": "Volume de Espera (%)", "v": 83.4}, {"d": 338, "s": "Volume de Espera (%)", "v": 88.6},
   {"d": 345, "s": "Volume de Espera (%)", "v": 100}, {"d": 362, "s": "Volume de Espera (%)", "v": 100}
  ]
 },
 "encoding": {
  "x": {
   "field": "d", "type": "quantitative", "scale": {"domain": [-12, 364], "nice": false, "zero": false},
   "axis": {
    "title": null, "values": [0, 61, 123, 184, 245, 304], "labelPadding": 14,
    "labelExpr": "{'0':'mai 2025','61':'jul 2025','123':'set 2025','184':'nov 2025','245':'jan 2026','304':'mar 2026'}[datum.value]",
    "grid": true, "gridColor": "#000000", "gridDash": [2, 8], "gridWidth": 2.5
   }
  },
  "color": {
   "field": "s", "type": "nominal",
   "scale": {"domain": ["Aflu (m³/s)", "Deflu (m³/s)", "V.U. (%)", "Volume de Espera (%)"], "range": ["#118DFF", "#D64550", "#000000", "#E66C37"]},
   "legend": {
    "title": null, "orient": "none", "legendX": 680, "legendY": 1478, "direction": "horizontal", "columnPadding": 14,
    "symbolType": "circle",
    "encode": {"symbols": {"update": {"fill": {"scale": "color", "field": "value"}, "strokeDash": {"value": []}, "strokeWidth": {"value": 0}, "opacity": {"value": 1}}}}
   }
  }
 },
 "layer": [
  {
   "data": {"name": "flow"},
   "mark": {"type": "line", "strokeWidth": 6, "interpolate": "linear"},
   "encoding": {
    "y": {
     "field": "v", "type": "quantitative", "scale": {"domain": [0, 586], "nice": false},
     "axis": {
      "title": "Vazão (m³/s)", "titleFontWeight": "bold", "titleColor": "#252423", "titlePadding": 36,
      "values": [0, 50, 100, 150, 200, 250, 300, 350, 400, 450, 500, 550],
      "labelExpr": "datum.value % 100 == 0 ? datum.label : ''", "labelPadding": 20,
      "grid": true, "gridColor": "#C8C6C4", "gridDash": [2, 8], "gridWidth": 2.5
     }
    }
   }
  },
  {
   "data": {"name": "vol"},
   "transform": [{"filter": "datum.s == 'V.U. (%)'"}],
   "mark": {"type": "line", "strokeWidth": 7, "interpolate": "monotone"},
   "encoding": {
    "y": {
     "field": "v", "type": "quantitative", "scale": {"domain": [0, 100], "nice": false},
     "axis": {"orient": "right", "title": "Volume Útil (%)", "titleFontWeight": "normal", "titleColor": "#252423", "titlePadding": 26, "values": [0, 20, 40, 60, 80, 100], "labelColor": "#605E5C", "labelPadding": 20, "grid": false}
    }
   }
  },
  {
   "data": {"name": "vol"},
   "transform": [{"filter": "datum.s == 'Volume de Espera (%)'"}],
   "mark": {"type": "line", "strokeWidth": 6, "interpolate": "step-after", "strokeDash": [16, 10]},
   "encoding": {
    "y": {"field": "v", "type": "quantitative", "scale": {"domain": [0, 100], "nice": false}, "axis": null}
   }
  }
 ],
 "resolve": {"scale": {"y": "independent"}}
}
